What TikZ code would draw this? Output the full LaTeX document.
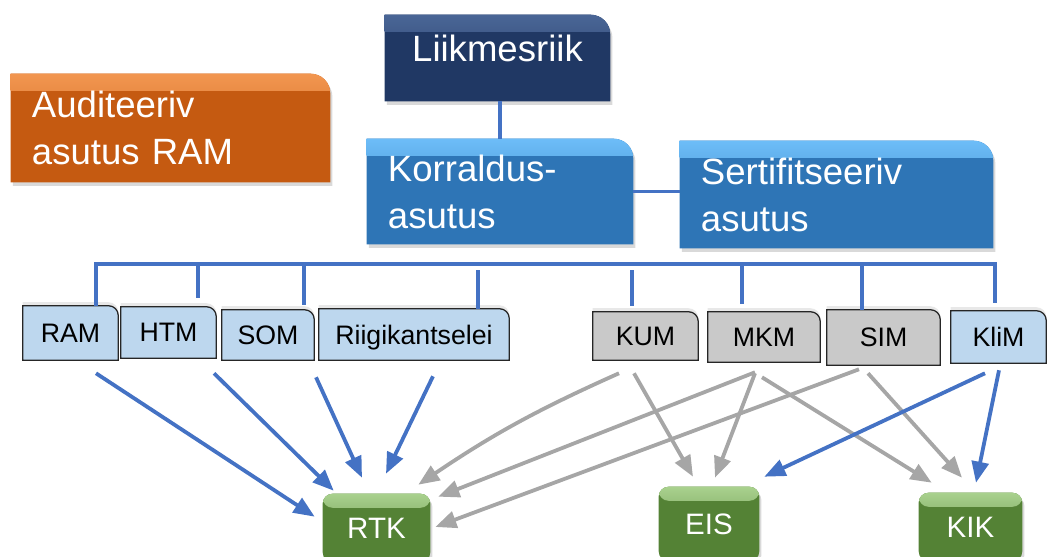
\documentclass[tikz,border=0pt]{standalone}
\usepackage{fontspec}
\setmainfont{Liberation Sans}
\usetikzlibrary{arrows.meta,calc,backgrounds,shadows}
\definecolor{audorange}{HTML}{C55A11}
\definecolor{audtop}{HTML}{F29650}
\definecolor{msnavy}{HTML}{203864}
\definecolor{mstop}{HTML}{4A6696}
\definecolor{mablue}{HTML}{2E75B6}
\definecolor{matop}{HTML}{6DBDF8}
\definecolor{fundgreen}{HTML}{548235}
\definecolor{fundtop}{HTML}{A9D18E}
\definecolor{unitblue}{HTML}{BDD7EE}
\definecolor{unitgray}{HTML}{C9C9C9}
\definecolor{lineblue}{HTML}{4472C4}
\definecolor{linegray}{HTML}{A6A6A6}
\tikzset{
  headtext/.style={text=white,inner xsep=0.525cm,inner ysep=0pt,font=\fontsize{26}{33.4}\selectfont},
  head/.style={headtext,align=left},
  unit/.style={inner sep=0pt,text depth=0pt,font=\fontsize{19}{22}\selectfont},
  fund/.style={inner sep=0pt,text=white,font=\fontsize{21}{25}\selectfont},
  busline/.style={draw=lineblue,line width=2.7pt},
  bluearr/.style={draw=lineblue,line width=2.7pt,-{Triangle[length=15pt,width=12pt]}},
  grayarr/.style={draw=linegray,line width=2.7pt,-{Triangle[length=15pt,width=12pt]}},
  boxshadow/.style={drop shadow={opacity=.3,shadow xshift=1.5pt,shadow yshift=-2.5pt}},
  unitshadow/.style={drop shadow={opacity=.18,shadow xshift=0pt,shadow yshift=2.5pt}}
}
\begin{document}
\begin{tikzpicture}[x=0.025cm,y=-0.025cm]
  \useasboundingbox (0,0) rectangle (1048,557);
  \clip (0,0) rectangle (1048,557);
  % top level
  \node[head,text width=6.925cm,minimum height=2.7cm] (aud) at (170.5,128) {Auditeeriv\\asutus RAM};
  \node[headtext,minimum width=5.625cm,minimum height=2.15cm,text height=0.875cm,text depth=0.675cm] (liik) at (497.5,58) {Liikmesriik};
  \node[head,text width=5.6cm,minimum height=2.625cm] (korr) at (500,191.5) {Korraldus-\\asutus};
  \node[head,text width=6.775cm,minimum height=2.675cm] (sert) at (836.5,194.5) {Sertifitseeriv\\asutus};
  % ministries
  \node[unit,minimum width=2.375cm,minimum height=1.35cm] (ram) at (70.5,333) {RAM};
  \node[unit,minimum width=2.375cm,minimum height=1.275cm] (htm) at (168.5,332.5) {HTM};
  \node[unit,minimum width=2.3cm,minimum height=1.25cm] (som) at (268,335) {SOM};
  \node[unit,minimum width=4.75cm,minimum height=1.275cm] (rk) at (414,334.5) {Riigikantselei};
  \node[unit,minimum width=2.625cm,minimum height=1.2cm] (kum) at (645.5,336) {KUM};
  \node[unit,minimum width=2.8cm,minimum height=1.25cm] (mkm) at (764,337) {MKM};
  \node[unit,minimum width=2.825cm,minimum height=1.375cm] (sim) at (883.5,337.5) {SIM};
  \node[unit,minimum width=2.375cm,minimum height=1.3cm] (klim) at (998.5,337) {KliM};
  % funds
  \node[fund,minimum width=2.675cm,minimum height=1.7cm] (rtk) at (376.5,528) {RTK};
  \node[fund,minimum width=2.5cm,minimum height=1.85cm] (eis) at (709,524) {EIS};
  \node[fund,minimum width=2.575cm,minimum height=1.7cm] (kik) at (970.5,527) {KIK};

  \begin{pgfonlayer}{background}
    \foreach \n/\fc/\tc in {aud/audorange/audtop,liik/msnavy/mstop,korr/mablue/matop,sert/mablue/matop}
      \fill[\fc,boxshadow,path picture={
          \shade[top color=\tc,bottom color=\fc] (path picture bounding box.north west) rectangle ([yshift=-12pt]path picture bounding box.north east);}]
        (\n.south west) -- (\n.north west) -- ([xshift=-14pt]\n.north east)
        arc[start angle=90,end angle=0,radius=14pt] -- (\n.south east) -- cycle;
    \foreach \n/\fc in {ram/unitblue,htm/unitblue,som/unitblue,rk/unitblue,kum/unitgray,mkm/unitgray,sim/unitgray,klim/unitblue}
      \filldraw[fill=\fc,draw=black!85,line width=0.9pt,unitshadow]
        (\n.south west) -- (\n.north west) -- ([xshift=-7pt]\n.north east)
        arc[start angle=90,end angle=0,radius=7pt] -- (\n.south east) -- cycle;
    \foreach \n in {rtk,eis,kik}
      \fill[fundgreen,rounded corners=7pt,boxshadow,path picture={
          \shade[top color=fundtop,bottom color=fundgreen] (path picture bounding box.north west) rectangle ([yshift=-10pt]path picture bounding box.north east);}]
        (\n.south west) rectangle (\n.north east);
  \end{pgfonlayer}

  % hierarchy lines
  \draw[busline] (korr.north |- liik.south) -- (korr.north);
  \draw[busline] (korr.east) -- (korr.east -| sert.west);
  \coordinate (busl) at (96,264);
  \coordinate (busr) at (995,264);
  \draw[busline,shorten >=5.7pt] (ram.north -| busl) -- (busl) -- (busr) -- (klim.north -| busr);
  \foreach \n/\x/\a/\b in {htm/198/0pt/6.4pt,som/304/0pt/3.6pt,rk/478/4.3pt/0pt,kum/632/4.3pt/4.3pt,mkm/742/0pt/5.7pt,sim/862/0pt/0pt} {
    \coordinate (d\n) at (\x,264);
    \draw[busline,shorten <=\a,shorten >=\b] (d\n) -- (d\n |- \n.north);
  }

  % flows to the funds
  \draw[bluearr] ($(ram.south)+(25.5,13)$) -- ($(rtk.north west)+(-8,23)$);
  \draw[bluearr] ($(htm.south)+(45.5,15)$) -- ($(rtk.north west)+(11,-3)$);
  \draw[bluearr] ($(som.south)+(48,17)$) -- ($(rtk.north)+(-14.5,-16)$);
  \draw[bluearr] ($(rk.south)+(19,16)$) -- ($(rtk.north)+(9.5,-20)$);
  \draw[grayarr] ($(kum.south)+(-26.5,13)$) to[bend right=5] ($(rtk.north east)+(-12,-9)$);
  \draw[grayarr] ($(kum.south)+(-11.5,13)$) -- ($(eis.north)+(-16,-10)$);
  \draw[grayarr] ($(mkm.south)+(-9,10)$) -- ($(rtk.north east)+(8,3)$);
  \draw[grayarr] ($(mkm.south)+(-9,11)$) -- ($(eis.north)+(6,-9)$);
  \draw[grayarr] ($(mkm.south)+(-2,15)$) -- ($(kik.north west)+(13,-10)$);
  \draw[grayarr] ($(sim.south)+(-24.5,4)$) -- ($(rtk.east)+(5,-1)$);
  \draw[grayarr] ($(sim.south)+(-15.5,8)$) -- ($(kik.north)+(-8.5,-15)$);
  \draw[bluearr] ($(klim.south)+(-13.5,10)$) -- ($(eis.north east)+(5,-10)$);
  \draw[bluearr] ($(klim.south)+(0.5,7)$) -- ($(kik.north)+(5.5,-10)$);
\end{tikzpicture}
\end{document}
